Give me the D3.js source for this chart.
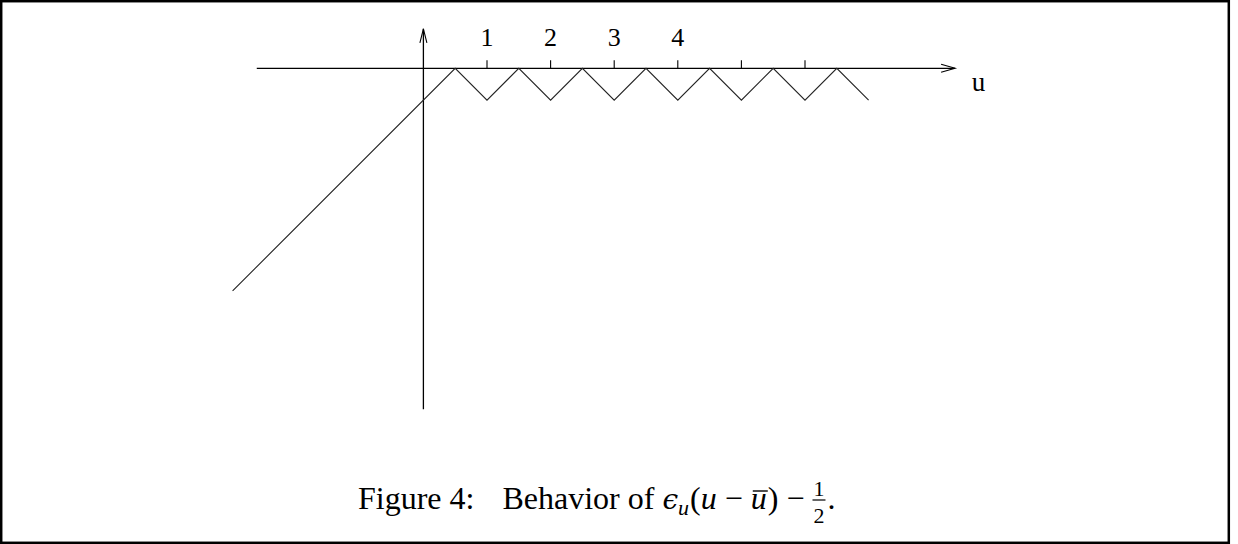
<html>
  <head>
    <script src="https://d3js.org/d3.v7.min.js"></script>
    <style>
      body {
        margin: 0;
        background: #fff;
      }
      text {
        font-family: "Liberation Serif", "Times New Roman", serif;
        fill: #000;
      }
    </style>
  </head>

  <body>
    <svg id="fig" width="1238" height="544"></svg>

    <script>
      // ticks on the u axis, only the first four carry a number
      const tickValues = [1, 2, 3, 4, 5, 6];
      const tickLabels = ["1", "2", "3", "4"];

      // the curve: ramp up to the first peak, then a sawtooth between 0 and -1/2
      const curveU = [-3, 0.5, 1, 1.5, 2, 2.5, 3, 3.5, 4, 4.5, 5, 5.5, 6, 6.5, 7];
      const curveV = [-3.5, 0, -0.5, 0, -0.5, 0, -0.5, 0, -0.5, 0, -0.5, 0, -0.5, 0, -0.5];

      // how far each axis reaches (in units)
      const uAxisExtent = [-2.62, 8.36];
      const vAxisExtent = [-5.36, 0.62];

      const axisName = "u";

      const svg = d3.select("svg#fig");

      // same scale on both axes, 63.6px per unit
      const x = d3.scaleLinear().domain([0, 1]).range([423.4, 487.0]);
      const y = d3.scaleLinear().domain([0, 1]).range([68.3, 4.7]);

      // frame round the figure
      svg
        .append("rect")
        .attr("x", 1.2)
        .attr("y", 1.2)
        .attr("width", 1227.6)
        .attr("height", 541.6)
        .attr("fill", "none")
        .attr("stroke", "#000")
        .attr("stroke-width", 2.5);

      // horizontal axis with open arrowhead
      const xEnd = x(uAxisExtent[1]);
      svg
        .append("line")
        .attr("x1", x(uAxisExtent[0]))
        .attr("x2", xEnd)
        .attr("y1", y(0))
        .attr("y2", y(0))
        .attr("stroke", "#000")
        .attr("stroke-width", 1.3);
      svg
        .append("path")
        .attr("d", `M${xEnd - 14},${y(0) - 4}L${xEnd},${y(0)}L${xEnd - 14},${y(0) + 4}`)
        .attr("fill", "none")
        .attr("stroke", "#000")
        .attr("stroke-width", 1.1);

      // vertical axis with open arrowhead
      const yTop = y(vAxisExtent[1]);
      svg
        .append("line")
        .attr("x1", x(0))
        .attr("x2", x(0))
        .attr("y1", y(vAxisExtent[0]))
        .attr("y2", yTop)
        .attr("stroke", "#000")
        .attr("stroke-width", 1.3);
      svg
        .append("path")
        .attr("d", `M${x(0) - 3.5},${yTop + 14}L${x(0)},${yTop}L${x(0) + 3.5},${yTop + 14}`)
        .attr("fill", "none")
        .attr("stroke", "#000")
        .attr("stroke-width", 1.1);

      // tick marks
      svg
        .selectAll("line.tick")
        .data(tickValues)
        .join("line")
        .attr("class", "tick")
        .attr("x1", (d) => x(d))
        .attr("x2", (d) => x(d))
        .attr("y1", y(0))
        .attr("y2", y(0) - 8)
        .attr("stroke", "#000")
        .attr("stroke-width", 1.1);

      svg
        .selectAll("text.tlab")
        .data(tickLabels)
        .join("text")
        .attr("class", "tlab")
        .attr("x", (d, i) => x(tickValues[i]))
        .attr("y", 45.5)
        .attr("text-anchor", "middle")
        .attr("font-size", 26)
        .text((d) => d);

      svg
        .append("text")
        .attr("x", 978.5)
        .attr("y", 91)
        .attr("text-anchor", "middle")
        .attr("font-size", 27)
        .text(axisName);

      // the curve
      const pts = curveU.map((u, i) => [u, curveV[i]]);
      const line = d3
        .line()
        .x((d) => x(d[0]))
        .y((d) => y(d[1]));
      svg
        .append("path")
        .datum(pts)
        .attr("d", line)
        .attr("fill", "none")
        .attr("stroke", "#222")
        .attr("stroke-width", 1.1);

      // caption, built from pieces so the math can be laid out by hand
      const capParts = [
        { t: "Figure 4:" },
        { t: "Behavior of ", dx: 28 },
        { t: "\u03f5", it: true, ff: "DejaVu Serif", fs: 28 },
        { t: "u", it: true, fs: 22, dy: 6 },
        { t: "(", dy: -6, dx: 1 },
        { t: "u", it: true },
        { t: "\u2212", dx: 8 },
        { t: "u", it: true, dx: 8, bar: true },
        { t: ")", dx: 1 },
        { t: "\u2212", dx: 8 },
        { t: "1", fs: 22, dx: 9, dy: -13, num: true },
        { t: "2", fs: 22, dx: -11, dy: 27, den: true },
        { t: ".", dx: 3, dy: -14 },
      ];

      const cap = svg
        .append("text")
        .attr("x", 358)
        .attr("y", 509)
        .attr("font-size", 32);

      let idx = 0;
      capParts.forEach((p) => {
        p.i = idx;
        idx += p.t.length;
        const ts = cap.append("tspan").text(p.t);
        if (p.it) ts.attr("font-style", "italic");
        if (p.ff) ts.attr("font-family", p.ff);
        if (p.fs) ts.attr("font-size", p.fs);
        if (p.dx) ts.attr("dx", p.dx);
        if (p.dy) ts.attr("dy", p.dy);
      });

      const capNode = cap.node();

      // overline on the second u
      const barPart = capParts.find((p) => p.bar);
      const ub = capNode.getExtentOfChar(barPart.i);
      svg
        .append("line")
        .attr("x1", ub.x + 2)
        .attr("x2", ub.x + ub.width + 1)
        .attr("y1", 491)
        .attr("y2", 491)
        .attr("stroke", "#000")
        .attr("stroke-width", 1.4);

      // fraction bar between 1 and 2
      const nb = capNode.getExtentOfChar(capParts.find((p) => p.num).i);
      svg
        .append("line")
        .attr("x1", nb.x - 1)
        .attr("x2", nb.x + nb.width + 1)
        .attr("y1", 500)
        .attr("y2", 500)
        .attr("stroke", "#000")
        .attr("stroke-width", 1.2);
    </script>
  </body>
</html>
